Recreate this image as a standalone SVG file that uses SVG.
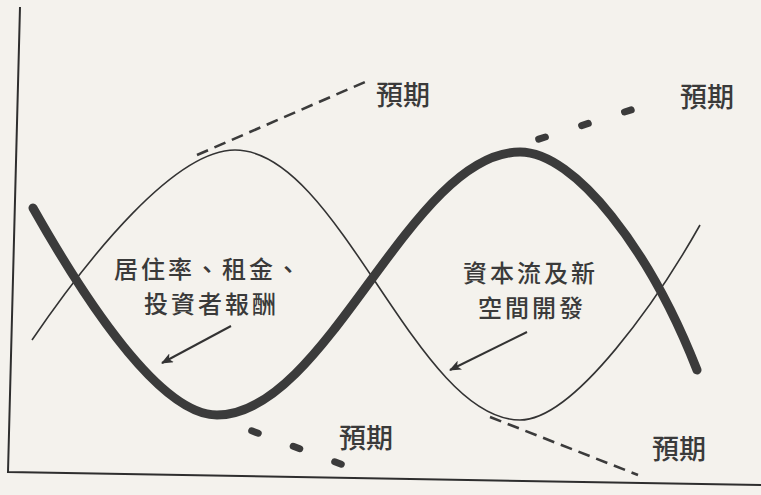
<svg xmlns="http://www.w3.org/2000/svg" width="761" height="495" viewBox="0 0 761 495">
<style>
.axis{fill:none;stroke:#2e2e2e;stroke-width:2}
.thin{fill:none;stroke:#333;stroke-width:1.6}
.thick{fill:none;stroke:#3b3b3b;stroke-width:9;stroke-linecap:round}
.dash{fill:none;stroke:#3b3b3b;stroke-width:2.6;stroke-dasharray:12 7}
.dots{fill:none;stroke:#3b3b3b;stroke-width:7;stroke-linecap:round}
.lbl{font-family:"Noto Sans CJK TC","Noto Sans CJK SC",sans-serif;font-size:27px;font-weight:500;fill:#3a3a3a}
.lbl2{font-family:"Noto Sans CJK TC","Noto Sans CJK SC",sans-serif;font-size:24px;letter-spacing:3px;font-weight:500;fill:#3a3a3a}
.arr{fill:none;stroke:#333;stroke-width:2}
</style>
<defs>
<marker id="ah" viewBox="0 0 12 10" refX="11" refY="5" markerWidth="12" markerHeight="10" markerUnits="userSpaceOnUse" orient="auto">
<path d="M0,0 L12,5 L0,10 L3,5 Z" fill="#333"/>
</marker>
</defs>
<rect width="761" height="495" fill="#f4f2ed"/>
<g id="axes">
<path class="axis" d="M20,7 L8,472 L761,485"/>
</g>
<g id="thin-curve">
<path class="thin" d="M32,340 C90,255 175,150 235,150 C339,150 416,420 520,420 C575,420 660,296 700,225"/>
</g>
<g id="thick-curve">
<path class="thick" d="M33,208 C85,300 160,415 217,415 C327,415 410,152 520,152 C575,152 650,250 697,370"/>
</g>
<g id="connectors">
<path class="dash" d="M197,155 L365,82"/>
<path class="dash" d="M490,417 L638,475"/>
<path class="dots" d="M538.7,139.1 L631.3,109.9" style="stroke-dasharray:7 38"/>
<path class="dots" d="M251.7,430.8 L341.3,464.2" style="stroke-dasharray:7 37.3"/>
<line class="arr" x1="231" y1="326" x2="162" y2="363" marker-end="url(#ah)"/>
<line class="arr" x1="527" y1="332" x2="450" y2="370" marker-end="url(#ah)"/>
</g>
<g id="label-expect-1"><text class="lbl" x="376" y="105">預期</text></g>
<g id="label-expect-2"><text class="lbl" x="680" y="107">預期</text></g>
<g id="label-expect-3"><text class="lbl" x="339" y="448">預期</text></g>
<g id="label-expect-4"><text class="lbl" x="652" y="459">預期</text></g>
<g id="label-occupancy">
<text class="lbl2" x="114" y="278">居住率、租金、</text>
<text class="lbl2" x="144" y="313">投資者報酬</text>
</g>
<g id="label-capital">
<text class="lbl2" x="463" y="282">資本流及新</text>
<text class="lbl2" x="478" y="317">空間開發</text>
</g>
</svg>
